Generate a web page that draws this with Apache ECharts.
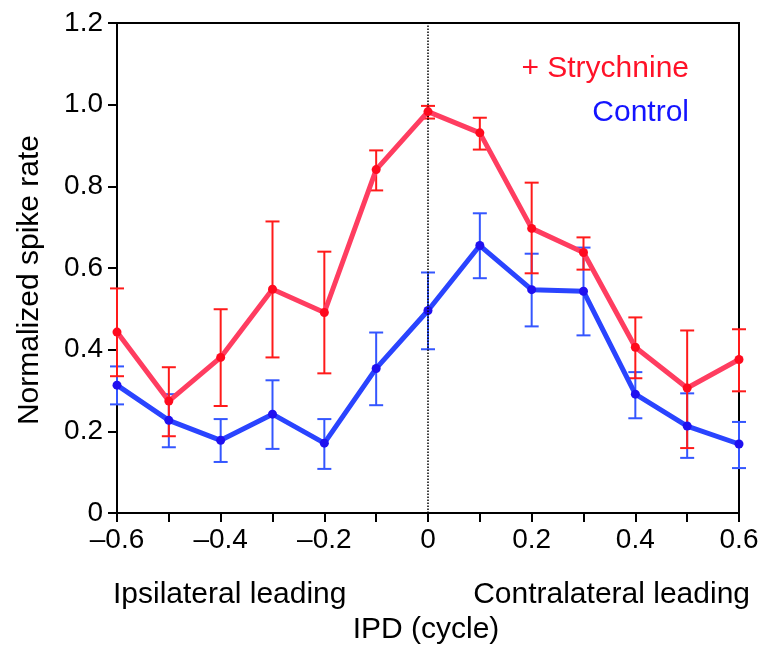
<!DOCTYPE html>
<html>
<head>
<meta charset="utf-8">
<script src="https://cdn.jsdelivr.net/npm/echarts@6/dist/echarts.min.js"></script>
<style>
html,body{margin:0;padding:0;background:#fff;}
#chart{width:763px;height:646px;}
</style>
</head>
<body>
<div id="chart"></div>
<script>
// ---- data ----
var ipd = [-0.6, -0.5, -0.4, -0.3, -0.2, -0.1, 0, 0.1, 0.2, 0.3, 0.4, 0.5, 0.6];
var strychMean  = [0.443, 0.274, 0.381, 0.548, 0.491, 0.841, 0.983, 0.931, 0.697, 0.638, 0.406, 0.306, 0.376];
var strychUpper = [0.550, 0.357, 0.499, 0.714, 0.640, 0.888, 0.997, 0.968, 0.809, 0.675, 0.479, 0.447, 0.450];
var strychLower = [0.335, 0.188, 0.262, 0.381, 0.342, 0.790, 0.966, 0.890, 0.587, 0.596, 0.330, 0.159, 0.298];
var controlMean  = [0.313, 0.227, 0.178, 0.242, 0.171, 0.354, 0.496, 0.655, 0.547, 0.543, 0.291, 0.213, 0.169];
var controlUpper = [0.359, 0.291, 0.230, 0.325, 0.230, 0.442, 0.589, 0.734, 0.635, 0.650, 0.345, 0.293, 0.223];
var controlLower = [0.266, 0.161, 0.125, 0.157, 0.108, 0.264, 0.401, 0.575, 0.457, 0.435, 0.232, 0.135, 0.110];
var xTickValues = [-0.6, -0.4, -0.2, 0, 0.2, 0.4, 0.6];
var xTickLabels = ['\u20130.6', '\u20130.4', '\u20130.2', '0', '0.2', '0.4', '0.6'];
var yTickValues = [0, 0.2, 0.4, 0.6, 0.8, 1.0, 1.2];
var yTickLabels = ['0', '0.2', '0.4', '0.6', '0.8', '1.0', '1.2'];
var seriesNames = ['+ Strychnine', 'Control'];
var xAxisName = 'IPD (cycle)';
var yAxisName = 'Normalized spike rate';
var sideLabels = ['Ipsilateral leading', 'Contralateral leading'];

// ---- build ----
var FONT = '"Liberation Sans", Arial, Helvetica, sans-serif';
function lookup(vals, labels, v) {
  for (var i = 0; i < vals.length; i++) if (Math.abs(vals[i] - v) < 1e-6) return labels[i];
  return '';
}
function pairs(xs, ys) { return xs.map(function (x, i) { return [x, ys[i]]; }); }
function errData(xs, lo, hi) { return xs.map(function (x, i) { return [x, lo[i], hi[i]]; }); }
function errRender(color) {
  return function (params, api) {
    var x = api.value(0);
    var lo = api.coord([x, api.value(1)]);
    var hi = api.coord([x, api.value(2)]);
    var hw = 7;
    var st = { stroke: color, lineWidth: 2 };
    return {
      type: 'group',
      children: [
        { type: 'line', shape: { x1: lo[0], y1: lo[1], x2: hi[0], y2: hi[1] }, style: st },
        { type: 'line', shape: { x1: hi[0] - hw, y1: hi[1], x2: hi[0] + hw, y2: hi[1] }, style: st },
        { type: 'line', shape: { x1: lo[0] - hw, y1: lo[1], x2: lo[0] + hw, y2: lo[1] }, style: st }
      ]
    };
  };
}

var chart = echarts.init(document.getElementById('chart'), null, { renderer: 'canvas' });
var option = {
  animation: false,
  backgroundColor: '#fff',
  grid: { left: 117, right: 24, top: 23, bottom: 133, show: true, borderColor: '#000', borderWidth: 2 },
  xAxis: {
    type: 'value', min: -0.6, max: 0.6, interval: 0.1,
    axisLine: { show: true, onZero: false, lineStyle: { color: '#000', width: 2 } },
    axisTick: { show: true, inside: false, length: 9, lineStyle: { color: '#000', width: 2 } },
    splitLine: { show: false },
    axisLabel: {
      margin: 13, color: '#000', fontSize: 28, fontFamily: FONT,
      formatter: function (v) { return lookup(xTickValues, xTickLabels, v); },
      showMinLabel: true, showMaxLabel: true
    }
  },
  yAxis: {
    type: 'value', min: 0, max: 1.2, interval: 0.2,
    axisLine: { show: true, onZero: false, lineStyle: { color: '#000', width: 2 } },
    axisTick: { show: true, inside: false, length: 9, lineStyle: { color: '#000', width: 2 } },
    splitLine: { show: false },
    axisLabel: {
      margin: 14, color: '#000', fontSize: 28, fontFamily: FONT,
      formatter: function (v) { return lookup(yTickValues, yTickLabels, v); }
    }
  },
  graphic: [
    { type: 'text', x: 30, y: 280, rotation: Math.PI / 2,
      style: { text: yAxisName, font: '30px ' + FONT, fill: '#000', textAlign: 'center', textVerticalAlign: 'middle' } },
    { type: 'text', x: 426, y: 630,
      style: { text: xAxisName, font: '30px ' + FONT, fill: '#000', textAlign: 'center', textVerticalAlign: 'middle' } },
    { type: 'text', x: 113, y: 595,
      style: { text: sideLabels[0], font: '30px ' + FONT, fill: '#000', textAlign: 'left', textVerticalAlign: 'middle' } },
    { type: 'text', x: 750, y: 595,
      style: { text: sideLabels[1], font: '30px ' + FONT, fill: '#000', textAlign: 'right', textVerticalAlign: 'middle' } },
    { type: 'text', x: 689, y: 69,
      style: { text: seriesNames[0], font: '30px ' + FONT, fill: '#ff1228', textAlign: 'right', textVerticalAlign: 'middle' } },
    { type: 'text', x: 689, y: 113,
      style: { text: seriesNames[1], font: '30px ' + FONT, fill: '#1414ff', textAlign: 'right', textVerticalAlign: 'middle' } }
  ],
  series: [
    {
      name: 'zero', type: 'line', data: [], z: 1,
      markLine: {
        silent: true, symbol: 'none', label: { show: false },
        lineStyle: { color: '#000', type: [1.5, 1.5], width: 1.5 },
        data: [{ xAxis: 0 }]
      }
    },
    { name: seriesNames[1] + ' err', type: 'custom', z: 2, renderItem: errRender('#3456ff'),
      data: errData(ipd, controlLower, controlUpper), encode: { x: 0, y: [1, 2] } },
    { name: seriesNames[0] + ' err', type: 'custom', z: 3, renderItem: errRender('#ff1a1a'),
      data: errData(ipd, strychLower, strychUpper), encode: { x: 0, y: [1, 2] } },
    { name: seriesNames[1], type: 'line', z: 4, data: pairs(ipd, controlMean),
      symbol: 'circle', symbolSize: 9, showSymbol: true,
      lineStyle: { color: '#2a44ff', width: 5 }, itemStyle: { color: '#2010f0' } },
    { name: seriesNames[0], type: 'line', z: 5, data: pairs(ipd, strychMean),
      symbol: 'circle', symbolSize: 9, showSymbol: true,
      lineStyle: { color: '#ff3d60', width: 5 }, itemStyle: { color: '#ff0a1e' } }
  ]
};
chart.setOption(option);
</script>
</body>
</html>
